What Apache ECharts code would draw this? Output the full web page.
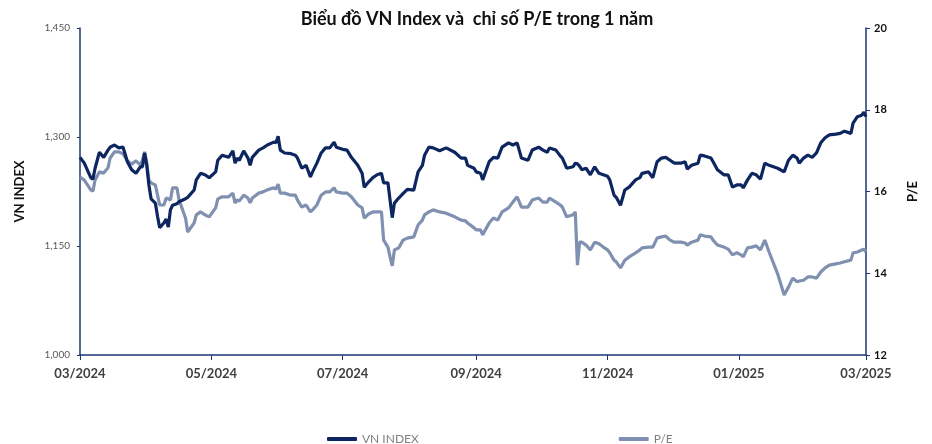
<!DOCTYPE html>
<html>
<head>
<meta charset="utf-8">
<title>VN Index và P/E</title>
<script src="https://cdn.jsdelivr.net/npm/echarts@6/dist/echarts.min.js"></script>
<style>
  html, body { margin: 0; padding: 0; background: #fff; }
  #chart { width: 932px; height: 444px; }
</style>
</head>
<body>
<div id="chart"></div>
<script>
// ngày giao dịch
var dates = [
  '2024-03-01','2024-03-03','2024-03-06','2024-03-07','2024-03-08','2024-03-10','2024-03-12','2024-03-14','2024-03-15','2024-03-17',
  '2024-03-19','2024-03-21','2024-03-23','2024-03-25','2024-03-27','2024-03-29','2024-03-30','2024-03-31','2024-04-01','2024-04-02',
  '2024-04-03','2024-04-05','2024-04-06','2024-04-07','2024-04-09','2024-04-10','2024-04-11','2024-04-12','2024-04-13','2024-04-15',
  '2024-04-16','2024-04-19','2024-04-20','2024-04-23','2024-04-24','2024-04-26','2024-04-28','2024-04-30','2024-05-03','2024-05-04',
  '2024-05-06','2024-05-09','2024-05-11','2024-05-12','2024-05-13','2024-05-14','2024-05-16','2024-05-18','2024-05-19','2024-05-20',
  '2024-05-23','2024-05-25','2024-05-27','2024-05-30','2024-05-31','2024-06-01','2024-06-02','2024-06-04','2024-06-07','2024-06-09',
  '2024-06-10','2024-06-12','2024-06-14','2024-06-16','2024-06-17','2024-06-19','2024-06-21','2024-06-23','2024-06-25','2024-06-27',
  '2024-06-28','2024-07-01','2024-07-03','2024-07-05','2024-07-08','2024-07-10','2024-07-11','2024-07-13','2024-07-15','2024-07-17',
  '2024-07-19','2024-07-20','2024-07-22','2024-07-23','2024-07-24','2024-07-25','2024-07-27','2024-07-29','2024-07-31','2024-08-03',
  '2024-08-05','2024-08-07','2024-08-08','2024-08-10','2024-08-12','2024-08-15','2024-08-18','2024-08-22','2024-08-25','2024-08-27',
  '2024-08-28','2024-08-31','2024-09-01','2024-09-03','2024-09-04','2024-09-07','2024-09-09','2024-09-11','2024-09-13','2024-09-16',
  '2024-09-18','2024-09-20','2024-09-22','2024-09-25','2024-09-27','2024-09-30','2024-10-02','2024-10-04','2024-10-05','2024-10-08',
  '2024-10-10','2024-10-11','2024-10-13','2024-10-16','2024-10-17','2024-10-18','2024-10-19','2024-10-20','2024-10-22','2024-10-24',
  '2024-10-26','2024-10-28','2024-10-30','2024-11-01','2024-11-02','2024-11-04','2024-11-05','2024-11-07','2024-11-09','2024-11-11',
  '2024-11-14','2024-11-16','2024-11-17','2024-11-20','2024-11-22','2024-11-24','2024-11-26','2024-11-28','2024-11-30','2024-12-02',
  '2024-12-05','2024-12-07','2024-12-08','2024-12-10','2024-12-13','2024-12-14','2024-12-16','2024-12-19','2024-12-20','2024-12-22',
  '2024-12-25','2024-12-27','2024-12-29','2024-12-31','2025-01-02','2025-01-03','2025-01-05','2025-01-07','2025-01-09','2025-01-11',
  '2025-01-13','2025-01-15','2025-01-19','2025-01-22','2025-01-24','2025-01-26','2025-01-28','2025-01-29','2025-01-31','2025-02-02',
  '2025-02-04','2025-02-06','2025-02-08','2025-02-10','2025-02-12','2025-02-15','2025-02-17','2025-02-19','2025-02-22','2025-02-23',
  '2025-02-25','2025-02-27','2025-02-28','2025-03-01'
]

var vnIndex = [
  1272,1264,1244,1242,1257,1279,1272,1282,1286,1289,
  1285,1286,1266,1255,1250,1259,1259,1278,1261,1234,
  1215,1209,1191,1175,1182,1187,1176,1200,1206,1208,
  1211,1215,1217,1227,1241,1250,1248,1244,1252,1268,
  1275,1272,1281,1264,1271,1268,1281,1271,1261,1272,
  1282,1285,1289,1293,1292,1301,1282,1278,1277,1275,
  1271,1257,1261,1245,1252,1264,1278,1285,1285,1293,
  1286,1283,1282,1272,1261,1250,1231,1238,1244,1248,
  1250,1237,1237,1213,1189,1209,1216,1222,1228,1227,
  1252,1261,1275,1286,1285,1281,1285,1279,1271,1271,
  1261,1257,1252,1250,1241,1266,1272,1271,1286,1292,
  1289,1292,1271,1268,1282,1286,1282,1279,1285,1282,
  1274,1271,1257,1259,1264,1263,1260,1255,1257,1248,
  1259,1250,1248,1246,1241,1220,1217,1206,1227,1231,
  1241,1244,1250,1252,1244,1266,1271,1272,1268,1264,
  1264,1266,1256,1261,1264,1275,1274,1271,1266,1255,
  1248,1248,1231,1234,1234,1230,1241,1250,1248,1242,
  1264,1261,1257,1252,1268,1275,1271,1264,1271,1275,
  1272,1278,1292,1299,1303,1304,1305,1308,1305,1319,
  1328,1330,1334,1328
]

var peRatio = [
  16.35,16.28,16.04,16.01,16.28,16.48,16.45,16.58,16.82,16.97,
  16.97,16.92,16.75,16.67,16.75,16.65,16.77,16.97,16.70,16.28,
  16.21,16.16,15.91,15.67,15.67,15.84,15.82,15.79,16.09,16.09,
  15.79,15.35,15.01,15.23,15.43,15.50,15.43,15.38,15.60,15.82,
  15.87,15.87,15.96,15.72,15.79,15.77,15.91,15.84,15.72,15.84,
  15.96,15.99,16.04,16.09,16.06,16.18,15.96,15.96,15.91,15.91,
  15.79,15.62,15.67,15.50,15.55,15.67,15.91,15.99,15.99,16.09,
  15.99,15.96,15.96,15.87,15.67,15.60,15.35,15.45,15.50,15.50,
  15.50,14.81,14.64,14.40,14.18,14.57,14.62,14.81,14.86,14.89,
  15.18,15.30,15.43,15.50,15.55,15.50,15.47,15.38,15.30,15.28,
  15.23,15.11,15.06,15.06,14.94,15.23,15.35,15.30,15.50,15.60,
  15.74,15.87,15.62,15.62,15.79,15.84,15.74,15.74,15.84,15.74,
  15.67,15.62,15.38,15.43,15.50,14.20,14.76,14.76,14.69,14.57,
  14.76,14.72,14.64,14.57,14.50,14.32,14.28,14.13,14.32,14.40,
  14.50,14.57,14.62,14.64,14.64,14.86,14.89,14.91,14.81,14.76,
  14.76,14.74,14.69,14.76,14.81,14.94,14.91,14.89,14.81,14.69,
  14.64,14.59,14.45,14.50,14.45,14.40,14.62,14.64,14.67,14.57,
  14.81,14.52,13.98,13.47,13.66,13.88,13.79,13.81,13.83,13.91,
  13.91,13.88,14.03,14.13,14.20,14.23,14.25,14.28,14.32,14.50,
  14.52,14.57,14.59,14.52
]

// mốc trục hoành
var tickDates = ['2024-03-01','2024-05-01','2024-07-01','2024-09-01','2024-11-01','2025-01-01','2025-03-01']

var navy = '#1c3673'
function toTime (d) { return echarts.number.parseDate(d).getTime() }
function pad (n) { return n < 10 ? '0' + n : '' + n }
var tickValues = tickDates.map(toTime)
var vnData = dates.map(function (d, i) { return [toTime(d), vnIndex[i]] })
var peData = dates.map(function (d, i) { return [toTime(d), peRatio[i]] })

var myChart = echarts.init(document.getElementById('chart'))
myChart.setOption({
  animation: false,
  textStyle: { fontFamily: 'Lato' },
  title: {
    text: 'Biểu đồ VN Index và  chỉ số P/E trong 1 năm',
    left: 472,
    textAlign: 'center',
    top: 5,
    textStyle: { fontSize: 18, fontWeight: 'bold', color: '#111', fontFamily: 'Lato' }
  },
  legend: {
    data: ['VN INDEX', 'P/E'],
    left: 322,
    top: 428,
    itemGap: 200,
    itemWidth: 30,
    itemHeight: 4,
    icon: 'roundRect',
    textStyle: { fontSize: 12, color: '#7f7f7f' }
  },
  grid: { left: 80, right: 66, top: 28, bottom: 89 },
  xAxis: {
    type: 'value',
    min: tickValues[0],
    max: tickValues[tickValues.length - 1],
    axisLine: { lineStyle: { color: navy, width: 1.5 } },
    axisTick: { show: true, customValues: tickValues, length: 5, lineStyle: { color: navy } },
    splitLine: { show: false },
    axisLabel: {
      customValues: tickValues,
      margin: 12,
      fontSize: 13,
      fontWeight: 'bold',
      color: '#404040',
      formatter: function (v) {
        var d = new Date(v)
        return pad(d.getMonth() + 1) + '/' + d.getFullYear()
      }
    }
  },
  yAxis: [
    {
      type: 'value',
      name: 'VN INDEX',
      nameLocation: 'middle',
      nameGap: 54,
      nameTextStyle: { fontSize: 13, fontWeight: 'bold', color: '#111' },
      min: 1000,
      max: 1450,
      interval: 150,
      axisLine: { show: true, lineStyle: { color: navy, width: 1.5 } },
      axisTick: { show: true, length: 3, lineStyle: { color: navy } },
      splitLine: { show: false },
      axisLabel: {
        fontSize: 10,
        color: '#595959',
        margin: 10,
        formatter: function (v) { return v.toLocaleString('en-US') }
      }
    },
    {
      type: 'value',
      name: 'P/E',
      nameLocation: 'middle',
      nameGap: 40,
      nameTextStyle: { fontSize: 13, fontWeight: 'bold', color: '#111' },
      min: 12,
      max: 20,
      interval: 2,
      axisLine: { show: true, lineStyle: { color: navy, width: 1.5 } },
      axisTick: { show: true, length: 4, lineStyle: { color: navy } },
      splitLine: { show: false },
      axisLabel: { fontSize: 11, fontWeight: 'bold', color: '#111', margin: 8 }
    }
  ],
  series: [
    {
      name: 'VN INDEX',
      type: 'line',
      yAxisIndex: 0,
      data: vnData,
      showSymbol: false,
      z: 3,
      itemStyle: { color: '#0d2660' },
      lineStyle: { color: '#0d2660', width: 3.2 }
    },
    {
      name: 'P/E',
      type: 'line',
      yAxisIndex: 1,
      data: peData,
      showSymbol: false,
      z: 2,
      itemStyle: { color: '#8090b0' },
      lineStyle: { color: '#8090b0', width: 3.2 }
    }
  ]
})
</script>
</body>
</html>
